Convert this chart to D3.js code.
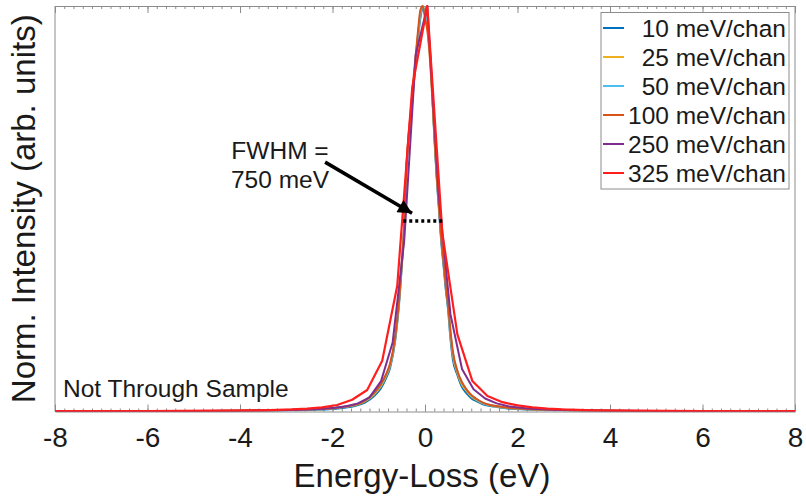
<!DOCTYPE html>
<html>
<head>
<meta charset="utf-8">
<script src="https://cdn.jsdelivr.net/npm/d3@7"></script>
<style>
  body { margin: 0; background: #fff; }
  text { font-family: "Liberation Sans", Arial, sans-serif; fill: #1a1a1a; }
</style>
</head>
<body>
<svg id="chart"></svg>
<script>
// --- data ---

// shared energy grid (eV) for the finely sampled spectra
const fineE = [-8, -6, -5, -4, -3.5, -3, -2.5, -2, -1.75, -1.5, -1.3, -1.1, -0.95, -0.85, -0.75, -0.65,
  -0.55, -0.5, -0.45, -0.4, -0.35, -0.3, -0.25, -0.2, -0.15, -0.1, -0.05, 0, 0.05, 0.1, 0.15, 0.2,
  0.25, 0.3, 0.35, 0.4, 0.45, 0.5, 0.55, 0.6, 0.7, 0.8, 0.9, 1.0, 1.1, 1.25, 1.5, 1.75, 2, 2.5,
  3, 3.5, 4, 5, 6, 8];

const i10 = [0.0005, 0.0008, 0.001, 0.0015, 0.002, 0.003, 0.004, 0.006, 0.009, 0.014, 0.022, 0.038,
  0.058, 0.08, 0.11, 0.17, 0.28, 0.36, 0.45, 0.6, 0.68, 0.73, 0.8, 0.86, 0.92, 0.97, 0.995, 0.99,
  0.96, 0.9, 0.8, 0.68, 0.58, 0.5, 0.42, 0.36, 0.3, 0.25, 0.18, 0.13, 0.09, 0.06, 0.045, 0.033,
  0.026, 0.018, 0.012, 0.008, 0.006, 0.004, 0.003, 0.002, 0.0015, 0.001, 0.0008, 0.0005];

const i25 = [0.0005, 0.0009, 0.0012, 0.0018, 0.0025, 0.0035, 0.005, 0.0075, 0.011, 0.016, 0.025, 0.042,
  0.063, 0.085, 0.115, 0.175, 0.285, 0.365, 0.455, 0.6, 0.68, 0.74, 0.81, 0.87, 0.93, 0.98, 1.0, 0.98,
  0.95, 0.89, 0.8, 0.69, 0.59, 0.51, 0.43, 0.37, 0.31, 0.26, 0.19, 0.14, 0.095, 0.066, 0.05, 0.037,
  0.029, 0.02, 0.013, 0.009, 0.007, 0.0045, 0.0033, 0.0023, 0.0017, 0.0011, 0.0009, 0.0005];

const i50 = [0.0006, 0.001, 0.0013, 0.002, 0.0027, 0.0038, 0.0055, 0.008, 0.012, 0.017, 0.027, 0.045,
  0.066, 0.088, 0.118, 0.178, 0.29, 0.37, 0.46, 0.6, 0.68, 0.74, 0.81, 0.87, 0.93, 0.98, 1.0, 0.98,
  0.95, 0.89, 0.8, 0.69, 0.59, 0.51, 0.43, 0.37, 0.31, 0.26, 0.195, 0.145, 0.1, 0.07, 0.053, 0.04,
  0.031, 0.021, 0.014, 0.0095, 0.0075, 0.0048, 0.0035, 0.0025, 0.0018, 0.0012, 0.0009, 0.0006];

const i100 = [0.0006, 0.001, 0.0013, 0.002, 0.0027, 0.0038, 0.0055, 0.008, 0.012, 0.017, 0.027, 0.046,
  0.068, 0.09, 0.12, 0.18, 0.29, 0.37, 0.46, 0.61, 0.69, 0.75, 0.82, 0.88, 0.94, 0.99, 1.0, 0.97,
  0.94, 0.88, 0.79, 0.69, 0.59, 0.51, 0.43, 0.37, 0.31, 0.26, 0.2, 0.15, 0.1, 0.072, 0.054, 0.041,
  0.032, 0.022, 0.014, 0.0098, 0.0077, 0.005, 0.0036, 0.0026, 0.0019, 0.0012, 0.0009, 0.0006];

// 250 meV/chan samples
const e250 = [-8, -6, -4, -3.2, -2.7, -2.45, -2.2, -1.95, -1.7, -1.45, -1.2, -0.95, -0.7, -0.45, -0.2,
  0.05, 0.3, 0.55, 0.8, 1.05, 1.3, 1.55, 1.8, 2.05, 2.3, 2.55, 2.8, 3.3, 4, 6, 8];
const i250 = [0.0005, 0.0008, 0.0018, 0.003, 0.0045, 0.0055, 0.007, 0.009, 0.013, 0.02, 0.035, 0.075,
  0.17, 0.42, 0.88, 1.0, 0.53, 0.24, 0.105, 0.055, 0.032, 0.02, 0.013, 0.009, 0.007, 0.0055, 0.0045,
  0.003, 0.0018, 0.0008, 0.0005];

// 325 meV/chan samples
const e325 = [-8, -6, -4.5, -3.525, -3.2, -2.875, -2.55, -2.225, -1.9, -1.575, -1.25, -0.925, -0.6,
  -0.275, 0.05, 0.375, 0.7, 1.025, 1.35, 1.675, 2.0, 2.325, 2.65, 2.975, 3.3, 3.625, 4.5, 6, 8];
const i325 = [0.0008, 0.001, 0.002, 0.003, 0.004, 0.005, 0.007, 0.010, 0.016, 0.029, 0.053, 0.125, 0.31,
  0.8, 1.0, 0.44, 0.19, 0.075, 0.038, 0.023, 0.015, 0.010, 0.007, 0.005, 0.004, 0.003, 0.002, 0.001,
  0.0008];

const seriesLabels = ["10 meV/chan", "25 meV/chan", "50 meV/chan", "100 meV/chan", "250 meV/chan", "325 meV/chan"];
const xTicks = [-8, -6, -4, -2, 0, 2, 4, 6, 8];

// FWHM marker (eV, normalised intensity)
const fwhmBar = [[-0.47, 0.47], [0.38, 0.47]];
const fwhmArrow = [[-2.16, 0.615], [-0.28, 0.489]];

// --- layout ---
const width = 806;
const height = 499;
const margin = { top: 6, right: 11, bottom: 87.5, left: 55 };
const plotW = width - margin.left - margin.right;
const plotH = height - margin.top - margin.bottom;

const colors = ["#0072BD", "#EDB120", "#4DBEEE", "#D95319", "#7E2F8E", "#FF1E1E"];
const axisColor = "#8c8c8c";

const svg = d3.select("#chart").attr("width", width).attr("height", height);

const x = d3.scaleLinear().domain([-8, 8]).range([0, plotW]);
const y = d3.scaleLinear().domain([0, 1]).range([plotH, 0]);

const g = svg.append("g").attr("transform", `translate(${margin.left},${margin.top})`);

g.append("clipPath").attr("id", "clip")
  .append("rect").attr("x", 0).attr("y", -2).attr("width", plotW).attr("height", plotH + 2);

// --- axes ---
const minorTicks = d3.range(-8, 8.001, 0.2);

function styleAxis(sel) {
  sel.selectAll("path, line").attr("stroke", axisColor);
}

g.append("g").attr("transform", `translate(0,${plotH})`)
  .call(d3.axisBottom(x).tickValues(minorTicks).tickSizeInner(-3).tickSizeOuter(0).tickFormat(""))
  .call(styleAxis);
g.append("g").attr("transform", `translate(0,${plotH})`)
  .call(d3.axisBottom(x).tickValues(xTicks).tickSizeInner(-7).tickSizeOuter(0).tickPadding(16)
    .tickFormat(d => String(d)))
  .call(styleAxis)
  .call(a => a.select(".domain").remove())
  .selectAll("text")
  .attr("font-size", 28)
  .attr("fill", "#1a1a1a")
  .attr("font-family", "Liberation Sans, Arial, sans-serif");

g.append("g")
  .call(d3.axisTop(x).tickValues(minorTicks).tickSizeInner(-3).tickSizeOuter(0).tickFormat(""))
  .call(styleAxis);
g.append("g")
  .call(d3.axisTop(x).tickValues(xTicks).tickSizeInner(-7).tickSizeOuter(0).tickFormat(""))
  .call(styleAxis);

g.append("line").attr("x1", 0).attr("x2", 0).attr("y1", 0).attr("y2", plotH).attr("stroke", axisColor);
g.append("line").attr("x1", plotW).attr("x2", plotW).attr("y1", 0).attr("y2", plotH).attr("stroke", axisColor);

// --- spectra ---
const series = [
  { e: fineE, v: i10 },
  { e: fineE, v: i25 },
  { e: fineE, v: i50 },
  { e: fineE, v: i100 },
  { e: e250, v: i250 },
  { e: e325, v: i325 }
];

const smoothLine = d3.line().x(d => x(d[0])).y(d => y(d[1])).curve(d3.curveMonotoneX);
const rawLine = d3.line().x(d => x(d[0])).y(d => y(d[1]));

const curves = g.append("g").attr("clip-path", "url(#clip)");
series.forEach((s, i) => {
  const pts = s.e.map((e, k) => [e, s.v[k]]);
  curves.append("path")
    .attr("d", i < 4 ? smoothLine(pts) : rawLine(pts))
    .attr("fill", "none")
    .attr("stroke", colors[i])
    .attr("stroke-width", i === 5 ? 2.2 : 2)
    .attr("stroke-linejoin", "round");
});

// --- FWHM annotation ---
g.append("line")
  .attr("x1", x(fwhmBar[0][0])).attr("y1", y(fwhmBar[0][1]))
  .attr("x2", x(fwhmBar[1][0])).attr("y2", y(fwhmBar[1][1]))
  .attr("stroke", "#000").attr("stroke-width", 3.5).attr("stroke-dasharray", "3,3");

svg.append("defs").append("marker")
  .attr("id", "arrowhead")
  .attr("viewBox", "0 0 10 10")
  .attr("refX", 10).attr("refY", 5)
  .attr("markerWidth", 4.5).attr("markerHeight", 4)
  .attr("markerUnits", "strokeWidth")
  .attr("orient", "auto")
  .append("path").attr("d", "M0,0L10,5L0,10Z").attr("fill", "#000");

g.append("line")
  .attr("x1", x(fwhmArrow[0][0])).attr("y1", y(fwhmArrow[0][1]))
  .attr("x2", x(fwhmArrow[1][0])).attr("y2", y(fwhmArrow[1][1]))
  .attr("stroke", "#000").attr("stroke-width", 3.5)
  .attr("marker-end", "url(#arrowhead)");

svg.append("text").attr("x", 280).attr("y", 159).attr("text-anchor", "middle")
  .attr("font-size", 24.5).text("FWHM =");
svg.append("text").attr("x", 280).attr("y", 188).attr("text-anchor", "middle")
  .attr("font-size", 24.5).text("750 meV");

svg.append("text").attr("x", 63).attr("y", 397).attr("font-size", 24.5).text("Not Through Sample");

// --- axis titles ---
svg.append("text")
  .attr("x", margin.left + plotW / 2 - 3).attr("y", 487)
  .attr("text-anchor", "middle").attr("font-size", 33)
  .text("Energy-Loss (eV)");

svg.append("text")
  .attr("transform", `translate(35,${margin.top + plotH / 2}) rotate(-90)`)
  .attr("text-anchor", "middle").attr("font-size", 33)
  .text("Norm. Intensity (arb. units)");

// --- legend ---
const legend = svg.append("g");
legend.append("rect")
  .attr("x", 601).attr("y", 12.5).attr("width", 188).attr("height", 176.5)
  .attr("fill", "#fff").attr("stroke", axisColor).attr("stroke-width", 1);

seriesLabels.forEach((label, i) => {
  const ry = 28 + i * 29;
  legend.append("line")
    .attr("x1", 603).attr("x2", 624).attr("y1", ry).attr("y2", ry)
    .attr("stroke", colors[i]).attr("stroke-width", 2);
  legend.append("text")
    .attr("x", 786).attr("y", ry + 8.7)
    .attr("text-anchor", "end").attr("font-size", 24.5)
    .text(label);
});
</script>
</body>
</html>
